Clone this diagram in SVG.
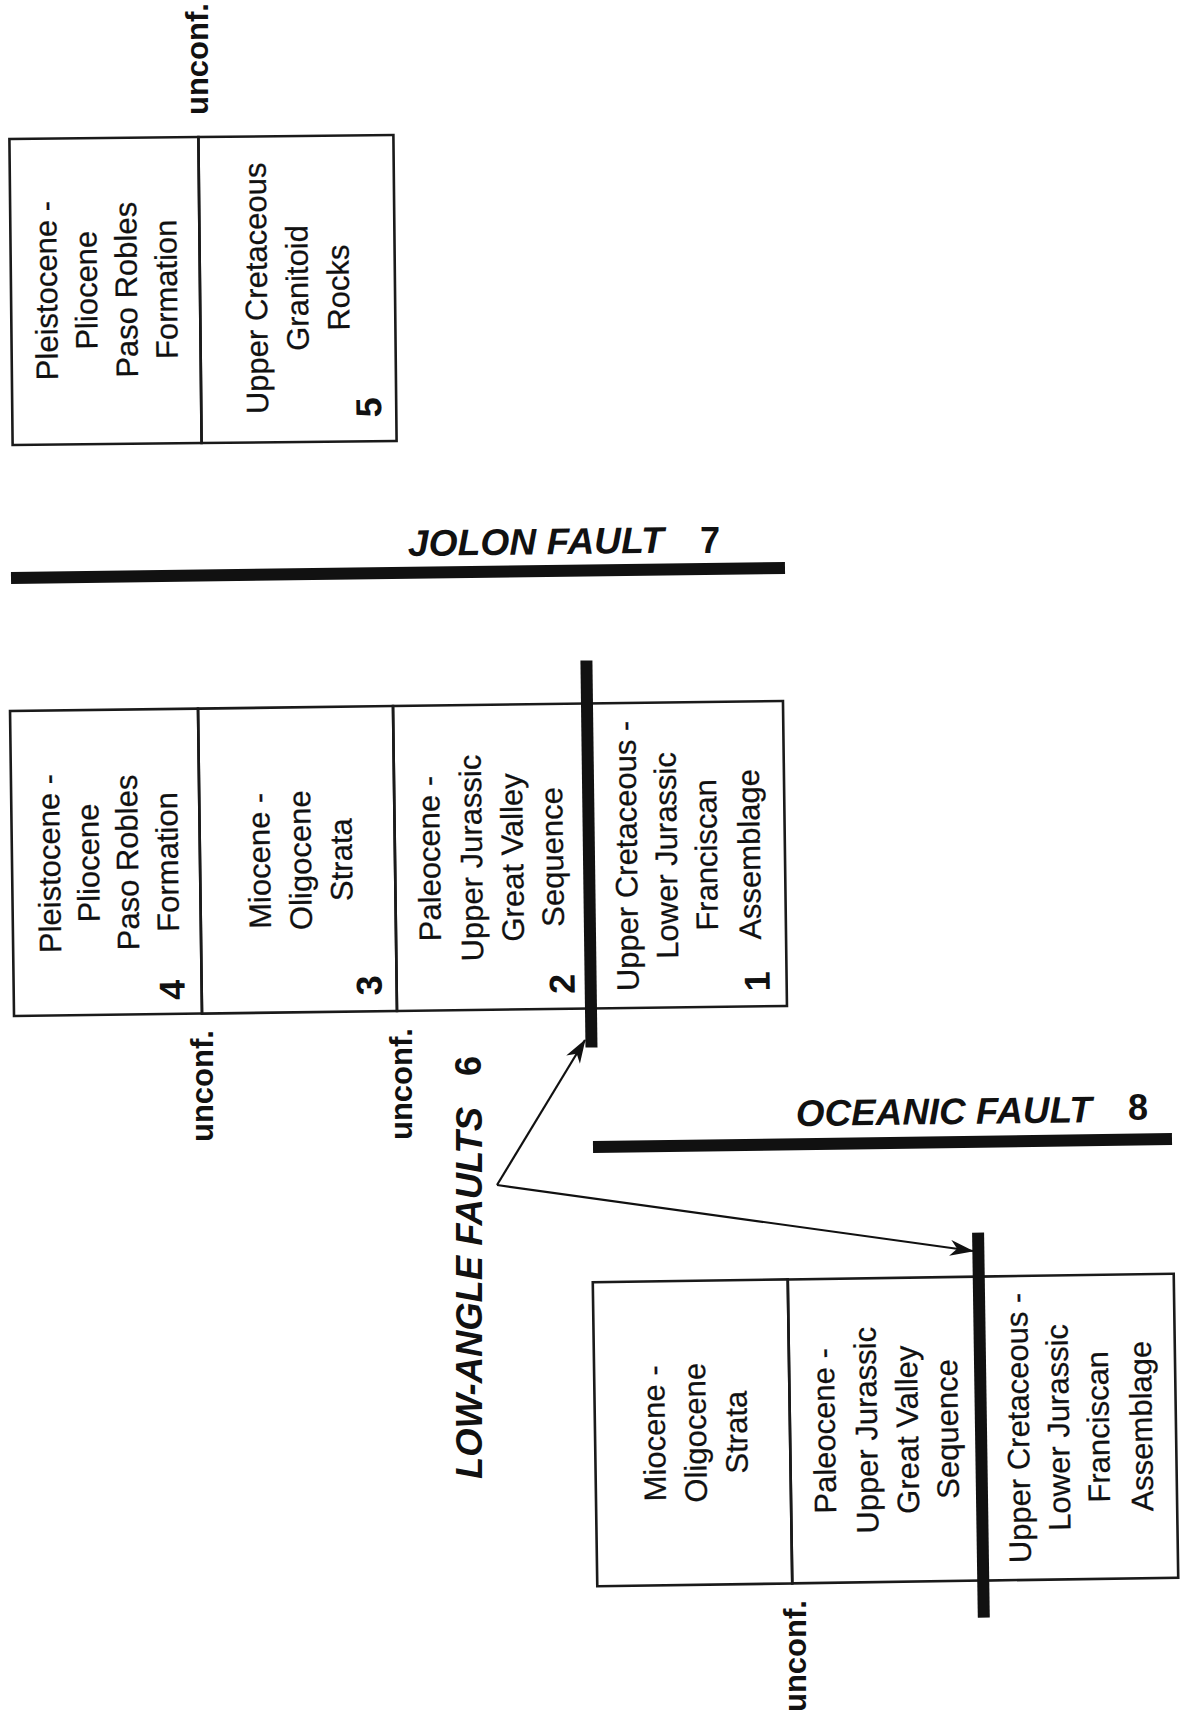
<svg xmlns="http://www.w3.org/2000/svg" width="1184" height="1720" viewBox="0 0 1184 1720">
<style>
.cell{fill:none;stroke:#1a1a1a;stroke-width:2.6}
.t{font-family:"Liberation Sans",Arial,Helvetica,sans-serif;font-size:31px;fill:#111;text-anchor:middle;stroke:#111;stroke-width:0.25}
.n{font-family:"Liberation Sans",Arial,Helvetica,sans-serif;font-size:36px;font-weight:bold;fill:#111}
.u{font-family:"Liberation Sans",Arial,Helvetica,sans-serif;font-size:31px;font-weight:bold;fill:#111}
.f{font-family:"Liberation Sans",Arial,Helvetica,sans-serif;font-size:37px;font-weight:bold;font-style:italic;fill:#111}
.fault{stroke:#111;stroke-width:12;stroke-linecap:butt}
.arrow{stroke:#111;stroke-width:2.2;fill:none;marker-end:url(#ah)}
</style>
<defs>
<marker id="ah" viewBox="0 0 24 16" refX="23" refY="8" markerWidth="24" markerHeight="16" markerUnits="userSpaceOnUse" orient="auto">
<path d="M0,0 L24,8 L0,16 L7,8 Z" fill="#111"/>
</marker>
</defs>
<rect width="1184" height="1720" fill="#fff"/>

<!-- Top column -->
<g id="column-top" transform="rotate(-0.6 203 290)">
<g id="unit-paso-robles-top">
<rect class="cell" x="11" y="137" width="189" height="306"/>
<text class="t" transform="translate(57,289) rotate(-90)">Pleistocene -</text>
<text class="t" transform="translate(97,289) rotate(-90)">Pliocene</text>
<text class="t" transform="translate(137,289) rotate(-90)">Paso Robles</text>
<text class="t" transform="translate(177,289) rotate(-90)">Formation</text>
</g>
<g id="unit-granitoid-5">
<rect class="cell" x="200" y="137" width="195" height="306"/>
<text class="t" transform="translate(267,289) rotate(-90)">Upper Cretaceous</text>
<text class="t" transform="translate(308,289) rotate(-90)">Granitoid</text>
<text class="t" transform="translate(349,289) rotate(-90)">Rocks</text>
<text class="n" transform="translate(380,419) rotate(-90)">5</text>
</g>
</g>
<g id="label-unconf-top"><text class="u" transform="translate(208,115) rotate(-90)">unconf.</text></g>

<!-- Middle column -->
<g id="column-middle" transform="rotate(-0.75 398 859)">
<g id="unit-4">
<rect class="cell" x="12" y="706" width="188" height="305"/>
<text class="t" transform="translate(60,859) rotate(-90)">Pleistocene -</text>
<text class="t" transform="translate(99,859) rotate(-90)">Pliocene</text>
<text class="t" transform="translate(138,859) rotate(-90)">Paso Robles</text>
<text class="t" transform="translate(178,859) rotate(-90)">Formation</text>
<text class="n" transform="translate(183,997) rotate(-90)">4</text>
</g>
<g id="unit-3">
<rect class="cell" x="200" y="706" width="195" height="305"/>
<text class="t" transform="translate(270,859) rotate(-90)">Miocene -</text>
<text class="t" transform="translate(311,859) rotate(-90)">Oligocene</text>
<text class="t" transform="translate(352,859) rotate(-90)">Strata</text>
<text class="n" transform="translate(380,995) rotate(-90)">3</text>
</g>
<g id="unit-2">
<rect class="cell" x="395" y="706" width="193" height="305"/>
<text class="t" transform="translate(440,859) rotate(-90)">Paleocene -</text>
<text class="t" transform="translate(482,859) rotate(-90)">Upper Jurassic</text>
<text class="t" transform="translate(523,859) rotate(-90)">Great Valley</text>
<text class="t" transform="translate(563,859) rotate(-90)">Sequence</text>
<text class="n" transform="translate(573,996) rotate(-90)">2</text>
</g>
<g id="unit-1">
<rect class="cell" x="588" y="706" width="197" height="305"/>
<text class="t" transform="translate(637,859) rotate(-90)">Upper Cretaceous -</text>
<text class="t" transform="translate(677,859) rotate(-90)">Lower Jurassic</text>
<text class="t" transform="translate(717,859) rotate(-90)">Franciscan</text>
<text class="t" transform="translate(760,859) rotate(-90)">Assemblage</text>
<text class="n" transform="translate(768,996) rotate(-90)">1</text>
</g>
<line id="fault-middle" class="fault" x1="589" y1="663" x2="589" y2="1050"/>
</g>
<g id="label-unconf-mid-1"><text class="u" transform="translate(213,1142) rotate(-90)">unconf.</text></g>
<g id="label-unconf-mid-2"><text class="u" transform="translate(412,1140) rotate(-90)">unconf.</text></g>

<!-- Bottom column -->
<g id="column-bottom" transform="rotate(-0.85 886 1430)">
<g id="unit-miocene-bottom">
<rect class="cell" x="595" y="1278" width="195" height="304"/>
<text class="t" transform="translate(665,1430) rotate(-90)">Miocene -</text>
<text class="t" transform="translate(706,1430) rotate(-90)">Oligocene</text>
<text class="t" transform="translate(747,1430) rotate(-90)">Strata</text>
</g>
<g id="unit-great-valley-bottom">
<rect class="cell" x="790" y="1278" width="190" height="304"/>
<text class="t" transform="translate(835,1430) rotate(-90)">Paleocene -</text>
<text class="t" transform="translate(877,1430) rotate(-90)">Upper Jurassic</text>
<text class="t" transform="translate(918,1430) rotate(-90)">Great Valley</text>
<text class="t" transform="translate(958,1430) rotate(-90)">Sequence</text>
</g>
<g id="unit-franciscan-bottom">
<rect class="cell" x="980" y="1278" width="196" height="304"/>
<text class="t" transform="translate(1029,1430) rotate(-90)">Upper Cretaceous -</text>
<text class="t" transform="translate(1069,1430) rotate(-90)">Lower Jurassic</text>
<text class="t" transform="translate(1109,1430) rotate(-90)">Franciscan</text>
<text class="t" transform="translate(1152,1430) rotate(-90)">Assemblage</text>
</g>
<line id="fault-bottom" class="fault" x1="981" y1="1234" x2="981" y2="1619" stroke-width="11"/>
</g>
<g id="label-unconf-bottom"><text class="u" transform="translate(806,1712) rotate(-90)">unconf.</text></g>

<!-- Faults -->
<g id="jolon-fault">
<line class="fault" x1="11" y1="578" x2="785" y2="568" stroke-width="13"/>
<text class="f" x="408" y="556" textLength="256" lengthAdjust="spacingAndGlyphs" transform="rotate(-0.75 408 556)">JOLON FAULT</text>
<text class="n" x="700" y="553" font-size="36">7</text>
</g>
<g id="oceanic-fault">
<line class="fault" x1="593" y1="1147" x2="1172" y2="1139" stroke-width="11"/>
<text class="f" x="796" y="1126" textLength="296" lengthAdjust="spacingAndGlyphs" transform="rotate(-0.75 796 1126)">OCEANIC FAULT</text>
<text class="n" x="1128" y="1120" font-size="36">8</text>
</g>
<g id="low-angle-faults">
<text class="f" textLength="372" lengthAdjust="spacingAndGlyphs" transform="translate(482,1479) rotate(-90)">LOW-ANGLE FAULTS</text>
<text class="n" font-size="36" transform="translate(481,1076) rotate(-90)">6</text>
</g>

<!-- Connectors -->
<g id="connectors">
<line class="arrow" x1="497" y1="1185" x2="585" y2="1040"/>
<line class="arrow" x1="497" y1="1185" x2="973" y2="1251"/>
</g>
</svg>
